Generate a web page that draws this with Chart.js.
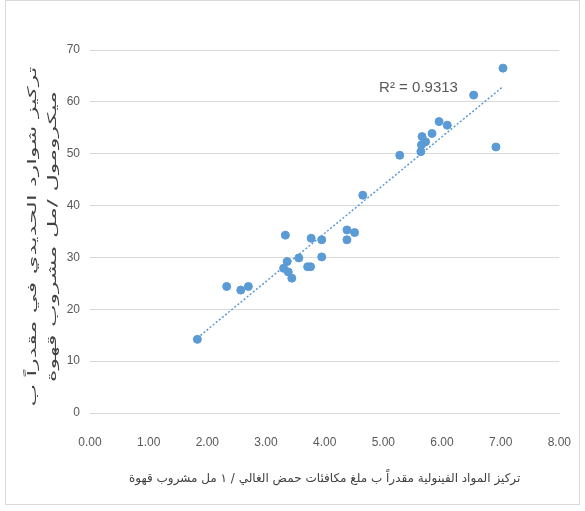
<!DOCTYPE html>
<html>
<head>
<meta charset="utf-8">
<script src="https://cdn.jsdelivr.net/npm/chart.js@4.4.1/dist/chart.umd.min.js"></script>
<style>
  html, body { margin: 0; padding: 0; background: #fff; }
  canvas { display: block; }
</style>
</head>
<body>
<canvas id="phenolChart" width="585" height="511"></canvas>
<script>
// phenolic concentration (x) vs ferrous ions (y)
const phenolValues = [1.83, 2.33, 2.57, 2.70, 3.30, 3.33, 3.36, 3.38, 3.44, 3.56,
  3.71, 3.76, 3.77, 3.95, 3.95, 4.38, 4.38, 4.51, 4.65, 5.28,
  5.64, 5.65, 5.66, 5.72, 5.83, 5.95, 6.09, 6.54, 6.92, 7.04];
const ironValues = [14.2, 24.4, 23.7, 24.4, 27.9, 34.3, 29.2, 27.2, 26.0, 29.9,
  28.2, 28.2, 33.7, 33.4, 30.1, 35.3, 33.4, 34.8, 42.0, 49.7,
  50.4, 51.7, 53.3, 52.3, 53.9, 56.2, 55.5, 61.3, 51.3, 66.5];
const xTickValues = [0, 1, 2, 3, 4, 5, 6, 7, 8];
const yTickValues = [0, 10, 20, 30, 40, 50, 60, 70];
const rSquaredLabel = "R² = 0.9313";
const xTitle = "تركيز المواد الفينولية مقدراً ب ملغ مكافئات حمض الغالي / ١ مل مشروب قهوة";
const yTitle = ["تركيز شوارد الحديدي في مقدراً ب", "ميكرومول /مل مشروب قهوة"];

const points = phenolValues.map((x, i) => ({ x: x, y: ironValues[i] }));

// least squares trendline, same as excel's linear trendline
function linearFit(xs, ys) {
  const n = xs.length;
  const mx = xs.reduce((a, b) => a + b, 0) / n;
  const my = ys.reduce((a, b) => a + b, 0) / n;
  let sxy = 0, sxx = 0;
  for (let i = 0; i < n; i++) {
    sxy += (xs[i] - mx) * (ys[i] - my);
    sxx += (xs[i] - mx) * (xs[i] - mx);
  }
  const slope = sxy / sxx;
  return { slope: slope, intercept: my - slope * mx };
}
const fit = linearFit(phenolValues, ironValues);
const xMin = Math.min(...phenolValues);
const xMax = Math.max(...phenolValues);
const trendPoints = [
  { x: xMin, y: fit.intercept + fit.slope * xMin },
  { x: xMax, y: fit.intercept + fit.slope * xMax },
];

const frameAndLabels = {
  id: "frameAndLabels",
  beforeDraw(chart) {
    const ctx = chart.ctx;
    ctx.save();
    ctx.fillStyle = "#fff";
    ctx.fillRect(0, 0, chart.width, chart.height);
    ctx.strokeStyle = "#d9d9d9";
    ctx.lineWidth = 1;
    ctx.strokeRect(5.5, 0.5, 574, 504);
    ctx.restore();
  },
  afterDraw(chart) {
    const ctx = chart.ctx;
    const xs = chart.scales.x, ys = chart.scales.y;
    const area = chart.chartArea;
    ctx.save();
    ctx.fillStyle = "#595959";
    ctx.font = "15px 'Liberation Sans', sans-serif";
    ctx.textAlign = "center";
    ctx.textBaseline = "middle";
    ctx.fillText(rSquaredLabel, xs.getPixelForValue(5.6), ys.getPixelForValue(62.7));
    ctx.restore();

    // vertical title, stretched along its length like the excel export
    ctx.save();
    ctx.fillStyle = "#404040";
    ctx.font = "12px 'DejaVu Sans', sans-serif";
    ctx.textAlign = "center";
    ctx.textBaseline = "middle";
    const stretch = 340 / ctx.measureText(yTitle[0]).width;
    ctx.translate(0, (area.top + area.bottom) / 2 + 5);
    ctx.rotate(-Math.PI / 2);
    ctx.scale(stretch, 1);
    ctx.fillText(yTitle[0], 0, 33);
    ctx.fillText(yTitle[1], 0, 53);
    ctx.restore();
  },
};

const ctx = document.getElementById("phenolChart").getContext("2d");
new Chart(ctx, {
  type: "scatter",
  data: {
    datasets: [
      {
        label: "data",
        data: points,
        backgroundColor: "#5b9bd5",
        borderColor: "#5b9bd5",
        pointRadius: 4,
        pointHoverRadius: 4,
      },
      {
        type: "line",
        label: "trend",
        data: trendPoints,
        borderColor: "#5b9bd5",
        borderWidth: 1.5,
        borderDash: [2, 2],
        pointRadius: 0,
        fill: false,
      },
    ],
  },
  options: {
    responsive: false,
    animation: false,
    layout: { padding: { left: 14, right: 21, top: 50, bottom: 21 } },
    plugins: {
      legend: { display: false },
      tooltip: { enabled: false },
    },
    scales: {
      x: {
        type: "linear",
        min: 0,
        max: 8,
        afterBuildTicks: (axis) => {
          axis.ticks = xTickValues.map((v) => ({ value: v }));
        },
        ticks: {
          padding: 14,
          color: "#595959",
          font: { size: 12, family: "'Liberation Sans', sans-serif" },
          callback: (v) => Number(v).toFixed(2),
          maxRotation: 0,
        },
        grid: { display: false },
        border: { display: true, color: "#d9d9d9" },
        title: {
          display: true,
          text: xTitle,
          color: "#404040",
          font: { size: 12, family: "'DejaVu Sans', sans-serif" },
          padding: { top: 4 },
        },
        afterFit: (scale) => { scale.height = 77; },
      },
      y: {
        min: 0,
        max: 70,
        afterBuildTicks: (axis) => {
          axis.ticks = yTickValues.map((v) => ({ value: v }));
        },
        ticks: {
          padding: 10,
          color: "#595959",
          font: { size: 12, family: "'Liberation Sans', sans-serif" },
        },
        grid: { color: "#d9d9d9", drawTicks: false },
        border: { display: false },
        afterFit: (scale) => { scale.width = 76; },
      },
    },
  },
  plugins: [frameAndLabels],
});
</script>
</body>
</html>
